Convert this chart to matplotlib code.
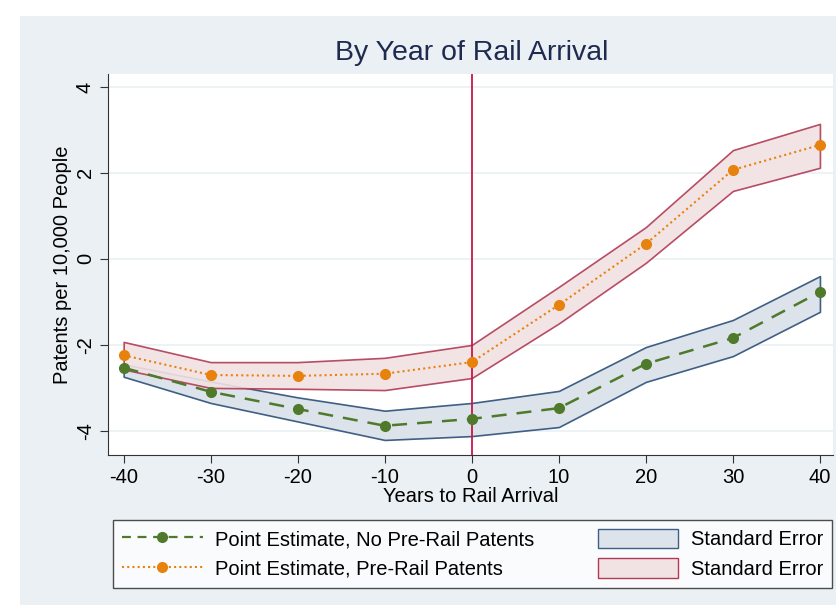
import matplotlib
matplotlib.use("Agg")
import matplotlib.pyplot as plt
from matplotlib.lines import Line2D
from matplotlib.patches import Patch, Rectangle

plt.rcParams['font.family'] = ['Liberation Sans', 'DejaVu Sans']
plt.rcParams['axes.unicode_minus'] = False

years = [-40, -30, -20, -10, 0, 10, 20, 30, 40]

# no pre-rail patents
est_none = [-2.53, -3.09, -3.49, -3.88, -3.72, -3.47, -2.44, -1.84, -0.77]
hi_none = [-2.45, -2.85, -3.22, -3.53, -3.35, -3.07, -2.05, -1.42, -0.40]
lo_none = [-2.74, -3.35, -3.78, -4.21, -4.12, -3.91, -2.86, -2.26, -1.23]

# pre-rail patents
est_pre = [-2.24, -2.70, -2.72, -2.67, -2.40, -1.07, 0.35, 2.07, 2.65]
hi_pre = [-1.93, -2.40, -2.40, -2.30, -2.00, -0.65, 0.74, 2.53, 3.14]
lo_pre = [-2.57, -3.00, -3.02, -3.05, -2.77, -1.50, -0.09, 1.58, 2.12]

xticks = [-40, -30, -20, -10, 0, 10, 20, 30, 40]
yticks = [-4, -2, 0, 2, 4]

bg = '#eaf0f3'
green = '#4f7a2b'
orange = '#e8820e'
blue_fill = '#dce3ea'
blue_edge = '#3f5f85'
red_fill = '#f1e2e3'
red_edge = '#b23a55'

fig = plt.figure(figsize=(8.36, 6.05), dpi=100, facecolor='white')
fig.patches.append(Rectangle((20 / 836, 0), 1, 1 - 16 / 605, transform=fig.transFigure,
                             facecolor=bg, edgecolor='none', zorder=-10))

ax = fig.add_axes([108 / 836, 1 - 455 / 605, (833 - 108) / 836, (455 - 74) / 605])
ax.set_facecolor('white')

for y in yticks:
    ax.axhline(y, color=bg, lw=1.2, zorder=0)

ax.fill_between(years, lo_none, hi_none, facecolor=blue_fill, edgecolor=blue_edge, lw=1.2, zorder=1)
ax.fill_between(years, lo_pre, hi_pre, facecolor=red_fill, edgecolor=red_edge, lw=1.2, zorder=1, alpha=0.9)
ax.axvline(0, color='#c8184a', lw=1.3, zorder=2)

ax.plot(years, est_none, color=green, ls=(0, (6, 4)), lw=1.8, marker='o', ms=7, zorder=3)
ax.plot(years, est_pre, color=orange, ls=(0, (1, 1.5)), lw=1.5, marker='o', ms=7, zorder=3)

ax.set_xlim(-41.8, 41.5)
ax.set_ylim(-4.56, 4.3)
ax.set_xticks(xticks)
ax.set_yticks(yticks)
ax.tick_params(labelsize=14.5, length=6, color='#333333')
for lab in ax.get_yticklabels():
    lab.set_rotation(90)
    lab.set_va('center')
for s in ['top', 'right']:
    ax.spines[s].set_visible(False)
ax.spines['left'].set_color('#333333')
ax.spines['bottom'].set_color('#333333')

ax.set_xlabel('Years to Rail Arrival', fontsize=14.5, labelpad=0)
ax.set_ylabel('Patents per 10,000 People', fontsize=14.5, labelpad=3)
fig.text(472 / 836, 1 - 53 / 605, 'By Year of Rail Arrival', fontsize=20.5, color='#1e2b4f',
         ha='center', va='center')

handles = [
    Line2D([], [], color=green, ls=(0, (4, 3)), lw=1.6, marker='o', ms=7),
    Line2D([], [], color=orange, ls=(0, (1, 1.5)), lw=1.5, marker='o', ms=7),
    Patch(facecolor=blue_fill, edgecolor=blue_edge),
    Patch(facecolor=red_fill, edgecolor=red_edge),
]
labels = ['Point Estimate, No Pre-Rail Patents', 'Point Estimate, Pre-Rail Patents',
          'Standard Error', 'Standard Error']
leg = fig.legend(handles, labels, ncol=2, loc='lower left',
                 bbox_to_anchor=(113 / 836, 1 - 588 / 605, (832 - 113) / 836, 67 / 605),
                 mode='expand', fontsize=14.5, handlelength=4.0, handleheight=1.1,
                 handletextpad=0.6, borderpad=0.45,
                 frameon=True, fancybox=False, edgecolor='#222222', borderaxespad=0,
                 labelspacing=0.45, columnspacing=2)
leg.get_frame().set_linewidth(1.0)

fig.savefig('out.png', dpi=100, facecolor=fig.get_facecolor())
